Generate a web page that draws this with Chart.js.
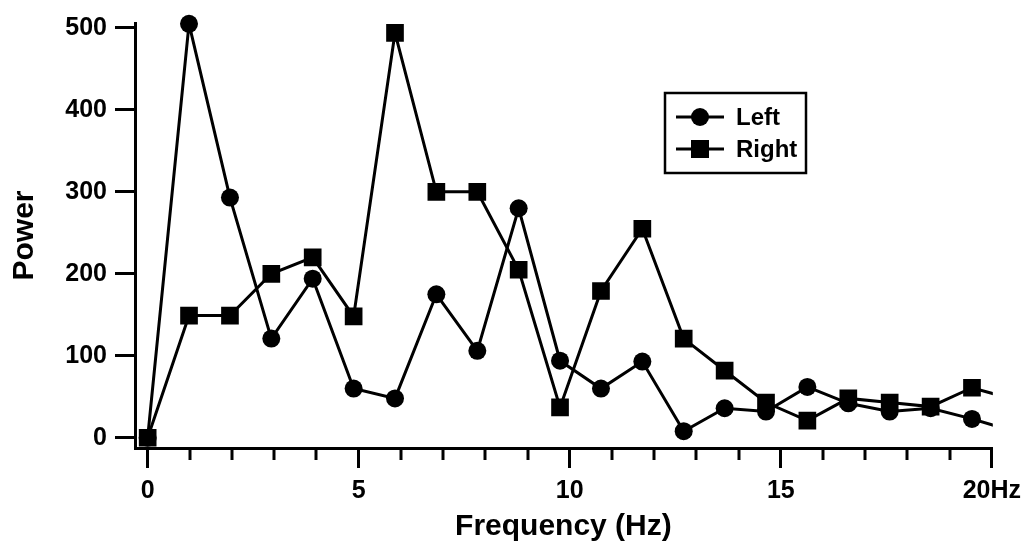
<!DOCTYPE html>
<html>
<head>
<meta charset="utf-8">
<script src="https://cdn.jsdelivr.net/npm/chart.js@4/dist/chart.umd.min.js"></script>
<style>
  html, body { margin: 0; padding: 0; background: #fff; }
  #wrap { width: 1029px; height: 550px; }
</style>
</head>
<body>
<div id="wrap"><canvas id="powerChart"></canvas></div>
<script>
// frequency bins (Hz)
var frequency = [0, 0.98, 1.95, 2.93, 3.91, 4.88, 5.86, 6.84, 7.81, 8.79, 9.77,
                 10.74, 11.72, 12.70, 13.67, 14.65, 15.63, 16.60, 17.58, 18.55, 19.53, 20.51];
var leftPower  = [0, 505, 293, 121, 194, 60, 48, 175, 106, 280, 94,
                  60, 93, 8, 36, 32, 62, 42, 32, 36, 23, 8];
var rightPower = [0, 149, 149, 200, 220, 148, 494, 300, 300, 205, 37,
                  179, 255, 121, 82, 43, 21, 48, 43, 38, 61, 47];
var xTicks = [0, 5, 10, 15, 20];
var yTicks = [0, 100, 200, 300, 400, 500];

var FONT = "'Liberation Sans', Arial, sans-serif";

function toPoints(ys) {
    return frequency.map(function (f, i) { return { x: f, y: ys[i] }; });
}

// minor ticks every 1 Hz on the x axis
var minorTicks = {
    id: 'minorTicks',
    afterDraw: function (chart) {
        var sc = chart.scales.x, ctx = chart.ctx;
        ctx.save();
        ctx.strokeStyle = '#000';
        ctx.lineWidth = 3;
        for (var v = 1; v < 20; v++) {
            if (v % 5 === 0) continue;
            var px = Math.round(sc.getPixelForValue(v));
            ctx.beginPath();
            ctx.moveTo(px, sc.top);
            ctx.lineTo(px, sc.top + 12);
            ctx.stroke();
        }
        ctx.restore();
    }
};

// boxed legend inside the plot
var boxLegend = {
    id: 'boxLegend',
    afterDraw: function (chart) {
        var ctx = chart.ctx;
        ctx.save();
        ctx.strokeStyle = '#000';
        ctx.lineWidth = 2.5;
        ctx.strokeRect(665, 93, 141, 80);
        chart.data.datasets.forEach(function (ds, i) {
            var cy = 117 + i * 32;
            ctx.lineWidth = 3;
            ctx.beginPath();
            ctx.moveTo(676, cy);
            ctx.lineTo(724, cy);
            ctx.stroke();
            ctx.fillStyle = '#000';
            if (ds.pointStyle === 'rect') {
                ctx.fillRect(691, cy - 9, 18, 18);
            } else {
                ctx.beginPath();
                ctx.arc(700, cy, 9, 0, Math.PI * 2);
                ctx.fill();
            }
            ctx.font = 'bold 24px ' + FONT;
            ctx.textBaseline = 'middle';
            ctx.textAlign = 'left';
            ctx.fillText(ds.label, 736, cy + 1);
        });
        ctx.restore();
    }
};

var ctx = document.getElementById('powerChart');
var powerChart = new Chart(ctx, {
    type: 'line',
    data: {
        datasets: [{
            label: 'Left',
            data: toPoints(leftPower),
            borderColor: '#000',
            backgroundColor: '#000',
            borderWidth: 3,
            pointStyle: 'circle',
            pointRadius: 9,
            pointBorderWidth: 0,
            tension: 0,
            clip: { left: 10, top: 20, right: 1, bottom: 10 }
        }, {
            label: 'Right',
            data: toPoints(rightPower),
            borderColor: '#000',
            backgroundColor: '#000',
            borderWidth: 3,
            pointStyle: 'rect',
            pointRadius: 12.5,
            pointBorderWidth: 0,
            tension: 0,
            clip: { left: 10, top: 20, right: 1, bottom: 10 }
        }]
    },
    options: {
        responsive: true,
        maintainAspectRatio: false,
        animation: false,
        layout: { padding: { top: 21, right: 36, left: 0, bottom: 0 } },
        plugins: {
            legend: { display: false },
            tooltip: { enabled: false }
        },
        scales: {
            x: {
                type: 'linear',
                min: -0.3,
                max: 20,
                afterBuildTicks: function (s) {
                    s.ticks = xTicks.map(function (v) { return { value: v }; });
                },
                afterFit: function (s) { s.height = 102; },
                grid: { drawOnChartArea: false, drawTicks: true, tickLength: 20, color: '#000', lineWidth: 3 },
                border: { display: true, color: '#000', width: 3 },
                ticks: {
                    color: '#000',
                    padding: 8,
                    maxRotation: 0,
                    font: { family: FONT, size: 25, weight: 'bold' },
                    callback: function (v) { return v === 20 ? '20Hz' : v; }
                },
                title: {
                    display: true,
                    text: 'Frequency (Hz)',
                    color: '#000',
                    font: { family: FONT, size: 30, weight: 'bold' },
                    padding: { top: 0, bottom: 5 }
                }
            },
            y: {
                min: -12.5,
                max: 506,
                afterBuildTicks: function (s) {
                    s.ticks = yTicks.map(function (v) { return { value: v }; });
                },
                afterFit: function (s) { s.width = 135; },
                grid: { drawOnChartArea: false, drawTicks: true, tickLength: 20, color: '#000', lineWidth: 3 },
                border: { display: true, color: '#000', width: 3 },
                ticks: {
                    color: '#000',
                    padding: 8,
                    font: { family: FONT, size: 25, weight: 'bold' }
                },
                title: {
                    display: true,
                    text: 'Power',
                    color: '#000',
                    font: { family: FONT, size: 30, weight: 'bold' },
                    padding: { top: 7, bottom: 0 }
                }
            }
        }
    },
    plugins: [minorTicks, boxLegend]
});
</script>
</body>
</html>
